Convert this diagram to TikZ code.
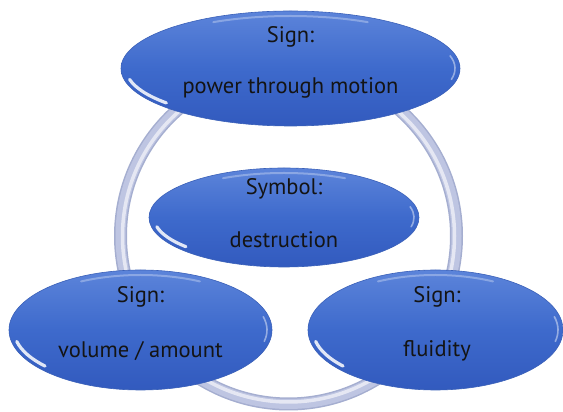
\documentclass[tikz,border=0pt]{standalone}
\usepackage{fontspec}
\setmainfont{PT Sans}
\usetikzlibrary{shapes.geometric}
\definecolor{blobtop}{RGB}{92,132,218}
\definecolor{blobmid}{RGB}{62,106,204}
\definecolor{blobbot}{RGB}{50,90,190}
\definecolor{blobedge}{RGB}{58,96,184}
\definecolor{ringc}{RGB}{190,197,226}
\definecolor{ringd}{RGB}{165,174,208}
\tikzset{
  blob/.style={ellipse, inner sep=0pt,
    top color=blobtop, bottom color=blobbot, middle color=blobmid,
    draw=blobedge, line width=0.6pt},
  hlA/.style={white, opacity=0.85, line width=3.2pt, line cap=round},
  hlB/.style={white, opacity=0.3, line width=2pt, line cap=round},
  hlC/.style={white, opacity=0.45, line width=1.6pt, line cap=round},
  lbl/.style={font=\fontsize{22.5}{26}\selectfont, text=black!92, inner sep=0pt},
}
% name, x, y, width, height
\newcommand\myblob[5]{%
  \node[blob, minimum width=#4pt, minimum height=#5pt] (#1) at (#2,#3) {};
  \pgfmathsetmacro\hrx{#4/2-5}%
  \pgfmathsetmacro\hry{#5/2-5}%
  \draw[hlA] ([shift={(#1.center)}]192:\hrx pt and \hry pt)
    arc[start angle=192, end angle=221, x radius=\hrx pt, y radius=\hry pt];
  \draw[hlB] ([shift={(#1.center)}]62:\hrx pt and \hry pt)
    arc[start angle=62, end angle=118, x radius=\hrx pt, y radius=\hry pt];
  \draw[hlC] ([shift={(#1.center)}]-12:\hrx pt and \hry pt)
    arc[start angle=-12, end angle=14, x radius=\hrx pt, y radius=\hry pt];
}
\begin{document}
\begin{tikzpicture}[x=1pt,y=1pt]
\useasboundingbox (0,0) rectangle (563,412);
\coordinate (ringctr) at (288.5,176);
% ring
\draw[ringd, line width=13pt] (ringctr) circle[radius=168pt];
\draw[ringc, line width=10pt] (ringctr) circle[radius=168pt];
\draw[white, opacity=0.6, line width=3.5pt] (ringctr) circle[radius=166pt];
% ellipses
\myblob{top}{290.5}{343.5}{339}{115}
\myblob{mid}{284}{194.5}{270}{99}
\myblob{bl}{140.5}{82}{263}{120}
\myblob{br}{435.5}{82}{255}{120}
% texts
\node[lbl] (topA) at ([yshift=31.5pt]top.center) {Sign:};
\node[lbl] (topB) at ([yshift=-19.5pt]top.center) {power through motion};
\node[lbl] (midA) at ([yshift=28.5pt]mid.center) {Symbol:};
\node[lbl] (midB) at ([yshift=-22.5pt]mid.center) {destruction};
\node[lbl] (blA) at ([yshift=33pt]bl.center) {Sign:};
\node[lbl] (blB) at ([yshift=-21pt]bl.center) {volume / amount};
\node[lbl] (brA) at ([yshift=33pt,xshift=1.5pt]br.center) {Sign:};
\node[lbl] (brB) at ([yshift=-21pt,xshift=1.5pt]br.center) {fluidity};
\end{tikzpicture}
\end{document}
